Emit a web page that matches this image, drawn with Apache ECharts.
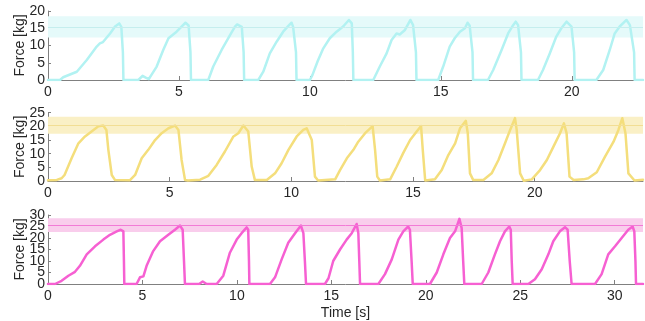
<!DOCTYPE html>
<html>
<head>
<meta charset="utf-8">
<script src="https://cdn.jsdelivr.net/npm/echarts@6/dist/echarts.min.js"></script>
<style>html,body{margin:0;padding:0;background:#fff}#c{width:645px;height:321px}</style>
</head>
<body>
<div id="c"></div>
<script>
// ---- data ----
const time1 = [0,0.46,0.58,1.1,1.48,1.86,1.98,2.1,2.37,2.56,2.72,2.8,2.86,2.88,3.45,3.61,3.75,3.85,3.95,4.15,4.4,4.6,4.91,5.1,5.25,5.37,5.44,5.46,6.12,6.31,6.63,6.95,7.14,7.22,7.4,7.47,7.49,8.03,8.22,8.47,8.73,8.98,9.17,9.3,9.36,9.47,9.49,10.0,10.1,10.3,10.5,10.76,11.02,11.27,11.49,11.6,11.64,11.66,12.42,12.67,12.93,13.12,13.31,13.43,13.63,13.84,13.94,14.05,14.07,14.9,15.09,15.34,15.53,15.73,15.92,16.02,16.1,16.21,16.23,16.8,17.0,17.32,17.57,17.76,17.86,17.95,18.06,18.08,18.71,18.9,19.16,19.41,19.6,19.8,19.86,19.99,20.09,20.11,20.94,21.2,21.45,21.64,21.83,22.09,22.22,22.38,22.4,22.72];
const force1 = [0,0,0.8,2.4,5.8,9.7,10.6,11,13.5,15.5,16.4,15.4,8,0,0,1.2,0.6,0.3,1.5,3.9,8.7,12.1,14,15.5,16.6,15.8,8,0,0,3.9,8.7,13,15.5,16.1,15.4,8,0,0,2.4,7.7,11.1,14,15.6,16.6,15.4,8,0,0,1.5,5.5,9,12.1,14,15.5,17.4,16.4,8,0,0,3.9,7.7,11.6,13.5,13.2,14.5,17.4,15.9,8,0,0,3.9,9.7,12.1,14,15,16.6,15.8,8,0,0,2.9,8.7,13.5,15.9,16.9,15.9,8,0,0,2.9,7.7,12.6,15,16.9,17.1,15.5,8,0,0,2.9,8.7,13.5,15.5,17.4,15.9,8,0,0];

const time2 = [0,0.36,0.56,0.68,0.97,1.25,1.52,1.79,2.07,2.27,2.4,2.48,2.62,2.75,3.37,3.58,3.85,4.12,4.4,4.67,4.95,5.22,5.36,5.49,5.63,5.75,6.25,6.59,6.93,7.27,7.62,7.82,8.03,8.23,8.37,8.5,8.99,9.33,9.6,9.88,10.22,10.49,10.63,10.84,10.97,11.1,11.8,12.0,12.28,12.55,12.75,13.03,13.34,13.44,13.53,13.64,14.06,14.33,14.6,14.88,15.15,15.33,15.4,15.5,15.9,16.18,16.45,16.73,16.93,17.17,17.25,17.34,17.47,17.89,18.23,18.51,18.78,18.99,19.19,19.26,19.4,19.55,19.88,20.22,20.5,20.77,21.04,21.2,21.31,21.43,21.6,22.0,22.2,22.55,22.89,23.24,23.44,23.6,23.73,23.85,24.1,24.45];
const force2 = [0.3,0.4,1.0,2.2,8.3,13.8,16.3,18.1,20,20.3,18.7,11.4,2.2,0.4,0.3,2.2,8.3,11.4,15,17.5,19.3,20.3,18.7,7.7,0.4,0.2,0.5,1.9,5.9,10.8,16.3,17.5,20.3,18.1,5.3,0.4,0.4,2.8,6.5,11.4,16.3,18.7,19.3,15,1.6,0.2,0.6,4.0,8.3,11.4,14.4,17.5,20.1,11.4,1.6,0.2,0.6,5.3,10.3,15,18.1,20.1,11.4,0.2,0.6,4,9.5,13.8,19.3,22,17.5,2.8,0.4,0.4,2.8,7.7,13.8,18.7,23,18.7,2.8,0.1,0.6,4,7.7,12.6,17.5,21.1,17.5,1.6,0.4,0.6,1.0,3.2,8.9,14.4,18.7,23,17.5,2.8,0.2,0.5];

const time3 = [0,0.37,0.72,1.08,1.43,1.69,2.05,2.49,2.93,3.28,3.64,3.85,3.99,4.02,4.04,4.69,4.87,5.05,5.22,5.57,5.93,6.37,6.72,6.99,7.13,7.2,7.25,8.0,8.19,8.4,8.93,9.28,9.63,9.99,10.25,10.52,10.6,10.64,10.66,11.75,12.02,12.37,12.72,13.08,13.39,13.52,13.6,13.66,14.66,14.85,15.1,15.46,15.81,16.08,16.34,16.43,16.48,16.52,17.49,17.84,18.2,18.55,18.81,19.07,19.16,19.25,19.31,20.22,20.58,20.93,21.28,21.55,21.78,21.9,21.98,22.04,22.96,23.31,23.66,23.93,24.19,24.42,24.5,24.55,24.6,25.43,25.78,26.14,26.49,26.75,27.1,27.37,27.51,27.62,27.72,28.96,29.31,29.66,30.02,30.37,30.72,30.95,31.04,31.1,31.13,31.5];
const force3 = [0,0,1.4,3.6,5.3,7.9,12.9,16.4,19.3,21.4,22.9,23.6,22.9,10,0,0,2.9,3.3,7.9,14.3,18.6,21.4,23.6,25.4,23.6,10,0,0,1.1,0,0,3.6,13.6,19.3,22.1,24.6,23.6,10,0,0,2.9,10.7,17.9,22.1,25.4,22.1,10,0,0,2.5,10,15,19.3,22.1,26.1,22.1,10,0,0,4.3,10.7,19.3,22.9,25,23.6,10,0,0,5,12.9,20,22.9,28.3,24.3,10,0,0,5,12.9,18.6,22.9,25,23.6,10,0,0,2.1,6.4,12.9,18.6,22.9,24.7,23.6,10,0,0,4.3,12.9,16.4,20,23.6,25,22.9,10,0,0];

const xMax = [22.72, 24.45, 31.5];
const yMax = [20, 25, 30];
const xTicks1 = [0,5,10,15,20];
const xTicks2 = [0,5,10,15,20];
const xTicks3 = [0,5,10,15,20,25,30];
const yTicks1 = [0,5,10,15,20];
const yTicks2 = [0,5,10,15,20,25];
const yTicks3 = [0,5,10,15,20,25,30];
const bandCenter = [15.4, 20.4, 25.6];
const bandHalf = [3.1, 3.1, 3.0];
const yLabel = 'Force [kg]';
const xLabel = 'Time [s]';

// ---- chart ----
const font = 'Liberation Sans, Arial, sans-serif';
const times = [time1, time2, time3];
const forces = [force1, force2, force3];
const xTicks = [xTicks1, xTicks2, xTicks3];
const yTicks = [yTicks1, yTicks2, yTicks3];
const lineColors = ['#b2f2f2', '#f4de7c', '#f660d2'];
const bandColors = ['#e5fafa', '#faf0c6', '#f9cdec'];
const centerColors = ['#c5eeee', '#f2de94', '#f27ad6'];
const grids = [
  {left: 48, right: 2, top: 11, height: 69},
  {left: 48, right: 2, top: 112.7, height: 68.3},
  {left: 48, right: 2, top: 215, height: 70}
];
const axisGray = '#808080';
const textCol = '#262626';
const fs = 14;

const xAxes = [], yAxes = [], series = [];
for (let i = 0; i < 3; i++) {
  xAxes.push({
    type: 'value', gridIndex: i, min: 0, max: xMax[i],
    axisLine: {show: true, lineStyle: {color: axisGray, width: 1}},
    axisTick: {show: true, inside: true, length: 4, customValues: xTicks[i], lineStyle: {color: axisGray}},
    axisLabel: {customValues: xTicks[i], color: textCol, fontSize: fs, fontFamily: font, margin: 5},
    splitLine: {show: false},
    name: i === 2 ? xLabel : '', nameLocation: 'middle', nameGap: 22, nameMoveOverlap: false,
    nameTextStyle: {color: textCol, fontSize: fs, fontFamily: font}
  });
  // split the y tick labels over two coincident axes so none is auto-hidden
  const evens = yTicks[i].filter((v, k) => k % 2 === 0);
  const odds = yTicks[i].filter((v, k) => k % 2 === 1);
  yAxes.push({
    type: 'value', gridIndex: i, position: 'left', offset: 0, min: 0, max: yMax[i], interval: 5,
    axisLine: {show: true, lineStyle: {color: axisGray, width: 1}},
    axisTick: {show: true, inside: true, length: 3, customValues: yTicks[i], lineStyle: {color: axisGray}},
    axisLabel: {customValues: evens, color: textCol, fontSize: fs, fontFamily: font, margin: 3,
      showMaxLabel: true, showMinLabel: true},
    splitLine: {show: false},
    name: yLabel, nameLocation: 'middle', nameGap: 21, nameRotate: 90, nameMoveOverlap: false,
    nameTextStyle: {color: textCol, fontSize: fs, fontFamily: font}
  });
  yAxes.push({
    type: 'value', gridIndex: i, position: 'left', offset: 0, min: 0, max: yMax[i], interval: 5,
    axisLine: {show: false}, axisTick: {show: false},
    axisLabel: {customValues: odds, color: textCol, fontSize: fs, fontFamily: font, margin: 3,
      showMaxLabel: true, showMinLabel: true},
    splitLine: {show: false}
  });
  series.push({
    type: 'line', xAxisIndex: i, yAxisIndex: 2 * i,
    data: times[i].map((t, k) => [t, forces[i][k]]),
    showSymbol: false, symbol: 'none',
    lineStyle: {color: lineColors[i], width: 2.5, join: 'round', cap: 'round'},
    itemStyle: {color: lineColors[i]},
    markArea: {silent: true, itemStyle: {color: bandColors[i]},
      data: [[{yAxis: bandCenter[i] - bandHalf[i]}, {yAxis: bandCenter[i] + bandHalf[i]}]]},
    markLine: {silent: true, symbol: 'none', label: {show: false},
      lineStyle: {color: centerColors[i], width: 1, type: 'solid'},
      data: [{yAxis: bandCenter[i]}]}
  });
}

const chart = echarts.init(document.getElementById('c'), null, {renderer: 'canvas'});
chart.setOption({
  animation: false,
  grid: grids,
  xAxis: xAxes,
  yAxis: yAxes,
  series: series
});
</script>
</body>
</html>
